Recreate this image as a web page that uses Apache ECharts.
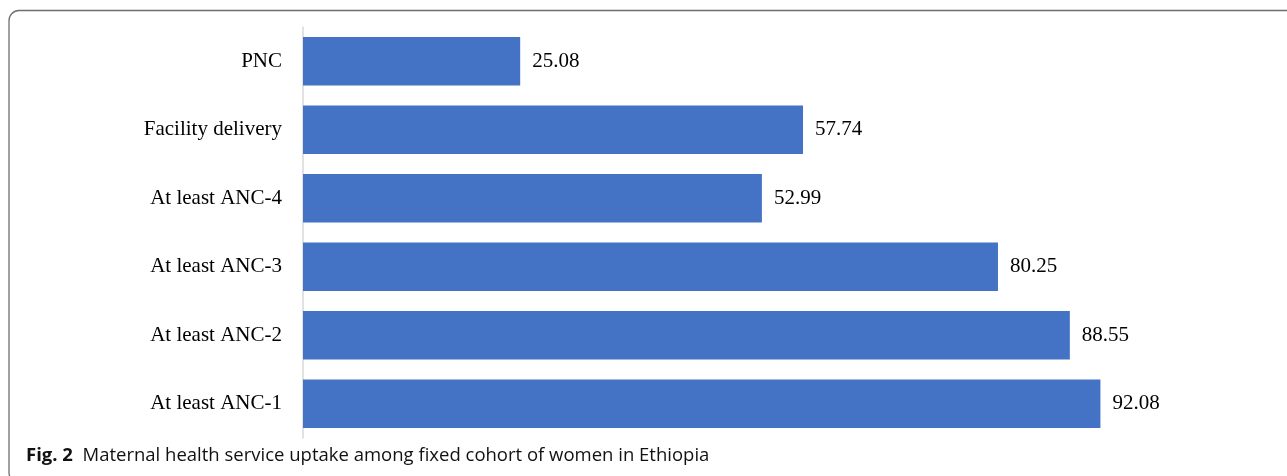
<!DOCTYPE html>
<html>
<head>
<meta charset="utf-8">
<script src="https://cdn.jsdelivr.net/npm/echarts@6/dist/echarts.min.js"></script>
<style>
html,body{margin:0;padding:0;background:#fff;}
#chart{width:1287px;height:476px;}
</style>
</head>
<body>
<div id="chart"></div>
<script>
const categories = ["PNC", "Facility delivery", "At least ANC-4", "At least ANC-3", "At least ANC-2", "At least ANC-1"];
const values = [25.08, 57.74, 52.99, 80.25, 88.55, 92.08];
const captionBold = "Fig. 2";
const captionText = "Maternal health service uptake among fixed cohort of women in Ethiopia";

const chart = echarts.init(document.getElementById('chart'), null, {renderer: 'canvas'});
chart.setOption({
  animation: false,
  backgroundColor: '#fff',
  grid: {left: 303, right: 118, top: 27, height: 411, containLabel: false},
  xAxis: {
    type: 'value', min: 0, max: 100,
    show: false
  },
  yAxis: {
    type: 'category', data: categories, inverse: true,
    axisLine: {show: true, lineStyle: {color: '#d9d9d9', width: 1.5}},
    axisTick: {show: false},
    axisLabel: {margin: 21, color: '#000', fontFamily: 'Liberation Serif', fontSize: 21}
  },
  series: [{
    type: 'bar', data: values,
    barCategoryGap: '29%',
    itemStyle: {color: '#4472C4'},
    label: {show: true, position: 'right', distance: 12, color: '#000',
      fontFamily: 'Liberation Serif', fontSize: 21,
      formatter: p => p.value.toFixed(2)}
  }],
  graphic: [
    {type: 'rect', shape: {x: 9, y: 10.5, width: 1300, height: 472, r: 10},
     style: {fill: 'none', stroke: '#6e6e6e', lineWidth: 1.3}, silent: true},
    {type: 'text', left: 26, top: 446,
     style: {
       text: '{b|' + captionBold + '}{n|  ' + captionText + '}',
       rich: {
         b: {fontFamily: 'Open Sans', fontWeight: 'bold', fontSize: 18.5, fill: '#111'},
         n: {fontFamily: 'Open Sans', fontSize: 18.5, fill: '#111'}
       }
     }}
  ]
});
</script>
</body>
</html>
